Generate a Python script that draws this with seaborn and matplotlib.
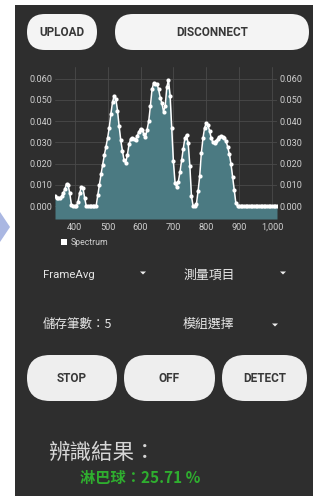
import matplotlib
matplotlib.use('Agg')
import matplotlib.pyplot as plt
import seaborn as sns
from matplotlib.patches import FancyBboxPatch, Rectangle, Polygon
from matplotlib.ticker import FuncFormatter

# spectrum (nm, arbitrary intensity)
wavelengths = [
    340, 345, 350, 355, 360, 365, 370, 375, 380, 385, 390, 395, 400, 405,
    410, 415, 420, 425, 430, 435, 440, 445, 450, 455, 460, 465, 470, 475,
    480, 485, 490, 495, 500, 505, 510, 515, 520, 525, 530, 535, 540, 545,
    550, 555, 560, 565, 570, 575, 580, 585, 590, 595, 600, 605, 610, 615,
    620, 625, 630, 635, 640, 645, 650, 655, 660, 665, 670, 675, 680, 685,
    690, 695, 700, 705, 710, 715, 720, 725, 730, 735, 740, 745, 750, 755,
    760, 765, 770, 775, 780, 785, 790, 795, 800, 805, 810, 815, 820, 825,
    830, 835, 840, 845, 850, 855, 860, 865, 870, 875, 880, 885, 890, 895,
    900, 905, 910, 915, 920, 925, 930, 935, 940, 945, 950, 955, 960, 965,
    970, 975, 980, 985, 990, 995, 1000, 1005, 1010, 1015,
]
intensity = [
    0.0045, 0.0040, 0.0040, 0.0040, 0.0045, 0.0060, 0.0080, 0.0105, 0.0098, 0.0060,
    0.0005, 0.0000, 0.0000, 0.0000, 0.0020, 0.0060, 0.0090, 0.0085, 0.0040, 0.0000,
    0.0000, 0.0000, 0.0000, 0.0000, 0.0000, 0.0000, 0.0050, 0.0100, 0.0150, 0.0195,
    0.0240, 0.0280, 0.0320, 0.0370, 0.0435, 0.0490, 0.0520, 0.0505, 0.0450, 0.0375,
    0.0310, 0.0260, 0.0215, 0.0205, 0.0240, 0.0290, 0.0315, 0.0320, 0.0315, 0.0310,
    0.0330, 0.0350, 0.0365, 0.0360, 0.0340, 0.0325, 0.0360, 0.0400, 0.0470, 0.0550,
    0.0580, 0.0575, 0.0575, 0.0550, 0.0510, 0.0485, 0.0445, 0.0470, 0.0560, 0.0595,
    0.0520, 0.0370, 0.0210, 0.0110, 0.0090, 0.0115, 0.0160, 0.0215, 0.0270, 0.0320,
    0.0335, 0.0295, 0.0190, 0.0045, 0.0000, 0.0000, 0.0010, 0.0070, 0.0140, 0.0250,
    0.0320, 0.0370, 0.0390, 0.0380, 0.0355, 0.0320, 0.0300, 0.0295, 0.0305, 0.0318,
    0.0325, 0.0328, 0.0326, 0.0320, 0.0305, 0.0280, 0.0245, 0.0200, 0.0137, 0.0076,
    0.0013, 0.0000, 0.0000, 0.0000, 0.0000, 0.0000, 0.0000, 0.0000, 0.0000, 0.0000,
    0.0000, 0.0000, 0.0000, 0.0000, 0.0000, 0.0000, 0.0000, 0.0000, 0.0000, 0.0000,
    0.0000, 0.0000, 0.0000, 0.0000, 0.0000, 0.0000,
]
x_ticks = [400, 500, 600, 700, 800, 900, 1000]
y_ticks = [0.0, 0.01, 0.02, 0.03, 0.04, 0.05, 0.06]

sns.set_theme(style='dark')
plt.rcParams['font.family'] = ['Roboto', 'Noto Sans CJK TC', 'DejaVu Sans']
CJK = ['Noto Sans CJK TC', 'Roboto', 'DejaVu Sans']

W, H = 314, 498
BG = '#2e2e2e'
fig = plt.figure(figsize=(W / 100, H / 100), dpi=100)
fig.patch.set_facecolor('white')

# overlay in pixel units for the app screen
ui = fig.add_axes([0, 0, 1, 1])
ui.set_xlim(0, W)
ui.set_ylim(H, 0)
ui.axis('off')
ui.add_patch(Rectangle((15, 5), 298, 491, color=BG, lw=0))
ui.add_patch(Polygon([(0, 212), (10, 227), (0, 242)], closed=True, color='#aab7e2', lw=0))


def pill(x0, y0, x1, y1, label, fc='#f4f4f4', fs=8.5):
    h = y1 - y0
    ui.add_patch(FancyBboxPatch((x0, y0), x1 - x0, h,
                                boxstyle=f'round,pad=0,rounding_size={h / 2}',
                                fc=fc, ec='none'))
    ui.text((x0 + x1) / 2, (y0 + y1) / 2, label, ha='center', va='center',
            fontsize=fs, fontweight='bold', color='#383838')


def caret(x, y):
    ui.add_patch(Polygon([(x - 3, y - 1.5), (x + 3, y - 1.5), (x, y + 1.5)],
                         closed=True, color='#eeeeee', lw=0))


pill(27, 14, 97, 50, 'UPLOAD')
pill(115, 14, 309, 50, 'DISCONNECT')

# legend of the chart
ui.add_patch(Rectangle((61, 239), 6, 6, color='white', lw=0))
ui.text(71, 242, 'Spectrum', fontsize=6.3, color='#cfcfcf', va='center')

# spinners
ui.text(43, 275, 'FrameAvg', fontsize=8.2, color='#e6e6e6', va='center')
caret(143, 273)
ui.text(183, 275, '測量項目', family=CJK, fontsize=9.3, color='#e6e6e6', va='center')
caret(283, 273)
ui.text(43, 324, '儲存筆數：5', family=CJK, fontsize=9, color='#e6e6e6', va='center')
ui.text(183, 324, '模組選擇', family=CJK, fontsize=9.3, color='#e6e6e6', va='center')
caret(275, 325)

pill(27, 355, 117, 401, 'STOP', fc='#eeeeee')
pill(124, 355, 215, 401, 'OFF', fc='#eeeeee')
pill(222, 355, 307, 401, 'DETECT', fc='#eeeeee')

ui.text(48, 453, '辨識結果：', family=CJK, fontsize=15.5, color='#d6d6d6', va='center')
ui.text(80, 478, '淋巴球：25.71 %', family=CJK, fontsize=11, fontweight='bold',
        color='#2fae2f', va='center')

# spectrum chart
ax = fig.add_axes([55 / W, 1 - 219 / H, (277 - 55) / W, (219 - 67) / H])
ax.set_facecolor(BG)
y_bottom = -0.0061
ax.fill_between(wavelengths, intensity, y_bottom, color='#4b7a82', lw=0)
sns.lineplot(x=wavelengths, y=intensity, ax=ax, color='white', linewidth=1.1,
             marker='o', markersize=3, markeredgewidth=0, sort=False)
ax.set_xlim(wavelengths[0], wavelengths[-1])
ax.set_ylim(y_bottom, 0.0655)
ax.set_xticks(x_ticks)
ax.set_yticks(y_ticks)
ax.grid(True, color='#4a4a4a', linewidth=0.6)
for s in ax.spines.values():
    s.set_visible(False)
ax.tick_params(colors='#cfcfcf', labelsize=6.6, length=0, pad=2, labelright=True)
ax.tick_params(axis='x', pad=3)
ax.yaxis.set_major_formatter(FuncFormatter(lambda v, p: f'{v:.3f}'))
ax.xaxis.set_major_formatter(FuncFormatter(lambda v, p: f'{v:,.0f}'))
ax.set_xlabel('')
ax.set_ylabel('')

fig.savefig('out.png', dpi=100, facecolor=fig.get_facecolor())
